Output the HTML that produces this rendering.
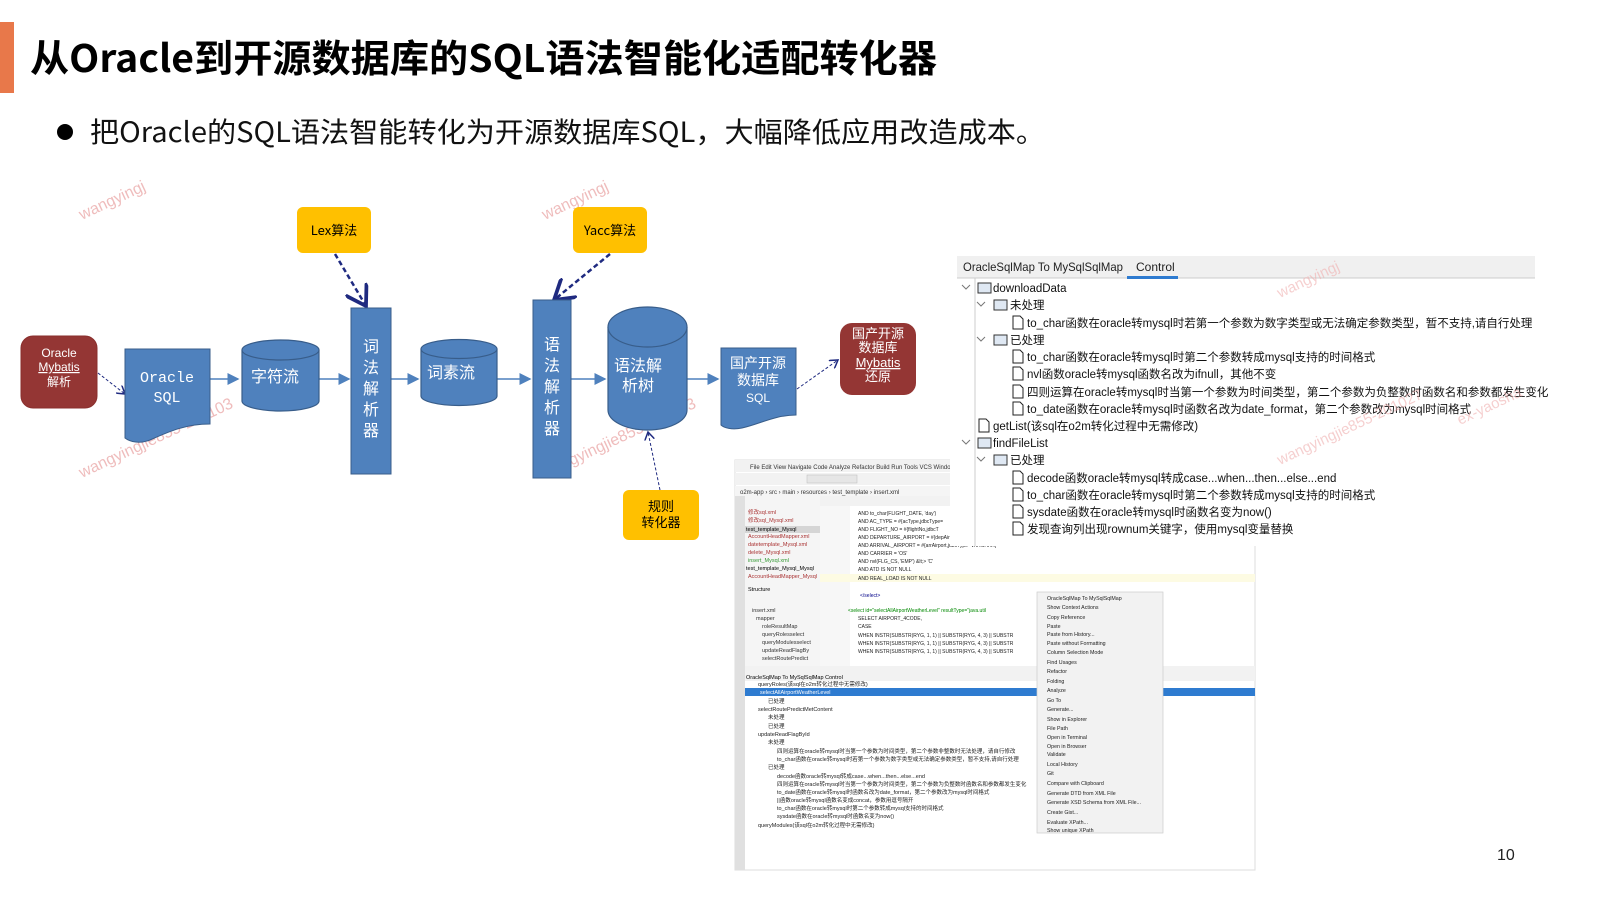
<!DOCTYPE html>
<html><head><meta charset="utf-8"><style>
html,body{margin:0;padding:0;background:#fff;}
svg{display:block;}
text{font-family:"Liberation Sans","Noto Sans CJK SC",sans-serif;}
.cj{font-family:"Noto Sans CJK SC","Liberation Sans",sans-serif;}
.mono{font-family:"Liberation Mono","Noto Sans CJK SC",monospace;}
</style></head><body>
<svg width="1600" height="900" viewBox="0 0 1600 900" xmlns="http://www.w3.org/2000/svg">
<defs>
<marker id="ab" markerWidth="8" markerHeight="8" refX="7" refY="4" orient="auto"><path d="M0,0 L8,4 L0,8 Z" fill="#4f81bd"/></marker>
<marker id="ad" markerWidth="10" markerHeight="10" refX="8" refY="5" orient="auto"><path d="M0,0 L8,5 L0,10" fill="none" stroke="#1f2a80" stroke-width="1.5"/></marker>
</defs>
<!-- title -->
<rect x="0" y="22" width="14" height="71" fill="#e8784a"/>
<text x="30" y="72" font-size="38" font-weight="bold" class="cj" textLength="907" lengthAdjust="spacingAndGlyphs">从Oracle到开源数据库的SQL语法智能化适配转化器</text>
<circle cx="65" cy="132" r="8" fill="#000"/>
<text x="90" y="142" font-size="28" class="cj" textLength="955" lengthAdjust="spacingAndGlyphs" fill="#111">把Oracle的SQL语法智能转化为开源数据库SQL，大幅降低应用改造成本。</text>

<!-- watermarks -->
<g fill="#e8a0a0" font-size="16" font-family="Liberation Serif,serif" opacity="0.7">
<text transform="translate(82,220) rotate(-25)">wangyingj</text>
<text transform="translate(82,478) rotate(-25)">wangyingjie855-201103</text>
<text transform="translate(545,220) rotate(-25)">wangyingj</text>
<text transform="translate(545,478) rotate(-25)">wangyingjie855-201103</text>
</g>

<!-- connectors -->
<g stroke="#4f81bd" stroke-width="1.5" fill="none">
<line x1="210" y1="379" x2="238" y2="379" marker-end="url(#ab)"/>
<line x1="319" y1="379" x2="349" y2="379" marker-end="url(#ab)"/>
<line x1="391" y1="379" x2="418" y2="379" marker-end="url(#ab)"/>
<line x1="497" y1="379" x2="530" y2="379" marker-end="url(#ab)"/>
<line x1="571" y1="379" x2="605" y2="379" marker-end="url(#ab)"/>
<line x1="687" y1="379" x2="718" y2="379" marker-end="url(#ab)"/>
</g>
<g stroke="#1f2a80" fill="none">
<line x1="98" y1="373" x2="125" y2="394" stroke-width="1" stroke-dasharray="3,2" marker-end="url(#ad)"/>
<line x1="335" y1="254" x2="366" y2="306" stroke-width="2.5" stroke-dasharray="5,3" marker-end="url(#ad)"/>
<line x1="610" y1="254" x2="554" y2="300" stroke-width="2.5" stroke-dasharray="5,3" marker-end="url(#ad)"/>
<line x1="797" y1="389" x2="838" y2="360" stroke-width="1" stroke-dasharray="3,2" marker-end="url(#ad)"/>
<line x1="660" y1="490" x2="648" y2="432" stroke-width="1" stroke-dasharray="3,2" marker-end="url(#ad)"/>
</g>

<!-- red boxes -->
<rect x="21" y="336" width="76" height="72" rx="12" fill="#943634" stroke="#8a2f2d"/>
<text x="59" y="357" font-size="12" fill="#fff" text-anchor="middle">Oracle</text>
<text x="59" y="371" font-size="12" fill="#fff" text-anchor="middle" text-decoration="underline">Mybatis</text>
<text x="59" y="386" font-size="12" fill="#fff" text-anchor="middle" class="cj">解析</text>
<rect x="840" y="323" width="76" height="72" rx="12" fill="#943634"/>
<g fill="#fff" font-size="13" text-anchor="middle" class="cj">
<text x="878" y="338">国产开源</text><text x="878" y="352">数据库</text>
<text x="878" y="367" text-decoration="underline">Mybatis</text><text x="878" y="381">还原</text></g>

<!-- yellow boxes -->
<rect x="297" y="207" width="74" height="46" rx="6" fill="#ffc000"/>
<text x="334" y="235" font-size="13" text-anchor="middle" class="cj">Lex算法</text>
<rect x="573" y="207" width="74" height="46" rx="6" fill="#ffc000"/>
<text x="610" y="235" font-size="13" text-anchor="middle" class="cj">Yacc算法</text>
<rect x="623" y="490" width="76" height="50" rx="6" fill="#ffc000"/>
<text x="661" y="511" font-size="13" text-anchor="middle" class="cj">规则</text>
<text x="661" y="527" font-size="13" text-anchor="middle" class="cj">转化器</text>

<!-- documents -->
<path d="M125,349 H210 V424 C185,424 168,432 150,440 C140,444 130,442 125,438 Z" fill="#4f81bd" stroke="#385d8a"/>
<text x="167" y="382" font-size="15" fill="#fff" text-anchor="middle" class="mono">Oracle</text>
<text x="167" y="402" font-size="15" fill="#fff" text-anchor="middle" class="mono">SQL</text>
<path d="M721,348 H796 V415 C775,415 760,424 742,428 C732,430 724,428 721,425 Z" fill="#4f81bd" stroke="#385d8a"/>
<g fill="#fff" font-size="14" text-anchor="middle" class="cj"><text x="758" y="368">国产开源</text><text x="758" y="385">数据库</text></g>
<text x="758" y="402" font-size="12" fill="#fff" text-anchor="middle">SQL</text>

<!-- cylinders -->
<g fill="#4f81bd" stroke="#385d8a" stroke-width="1.2">
<path d="M242,350 V401 A38.5,10 0 0 0 319,401 V350"/>
<ellipse cx="280.5" cy="350" rx="38.5" ry="10"/>
<path d="M421,349 V396 A38,9.5 0 0 0 497,396 V349"/>
<ellipse cx="459" cy="349" rx="38" ry="9.5"/>
<path d="M608,327 V410 A39.5,20 0 0 0 687,410 V327"/>
<ellipse cx="647.5" cy="327" rx="39.5" ry="20"/>
</g>
<g fill="#fff" class="cj" text-anchor="middle">
<text x="275" y="382" font-size="16">字符流</text>
<text x="451" y="378" font-size="16">词素流</text>
<text x="638" y="371" font-size="16">语法解</text>
<text x="638" y="391" font-size="16">析树</text>
</g>

<!-- tall rects -->
<rect x="351" y="308" width="40" height="166" fill="#4f81bd" stroke="#385d8a"/>
<rect x="533" y="300" width="38" height="178" fill="#4f81bd" stroke="#385d8a"/>
<g fill="#fff" class="cj" font-size="16" text-anchor="middle">
<text x="371" y="352">词</text><text x="371" y="373">法</text><text x="371" y="394">解</text><text x="371" y="415">析</text><text x="371" y="436">器</text>
<text x="552" y="350">语</text><text x="552" y="371">法</text><text x="552" y="392">解</text><text x="552" y="413">析</text><text x="552" y="434">器</text>
</g>

<!-- IDE screenshot -->
<g>
<rect x="735" y="460" width="520" height="410" fill="#fff" stroke="#ddd"/>
<rect x="735" y="460" width="520" height="12" fill="#f2f2f2"/>
<text x="750" y="469" font-size="6" fill="#333">File  Edit  View  Navigate  Code  Analyze  Refactor  Build  Run  Tools  VCS  Windo</text>
<rect x="735" y="473" width="520" height="12" fill="#f2f2f2"/>
<rect x="807" y="475" width="50" height="8" fill="#e6e6e6" stroke="#bbb" stroke-width="0.5"/>
<rect x="735" y="486" width="520" height="10" fill="#f5f5f5"/>
<text x="740" y="494" font-size="6" fill="#333">o2m-app › src › main › resources › test_template › insert.xml</text>
<rect x="735" y="496" width="10" height="374" fill="#e0e0e0"/>
<rect x="745" y="496" width="75" height="170" fill="#f5f5f5"/>
<g font-size="5.5" fill="#a33">
<text x="748" y="514">修改sql.xml</text><text x="748" y="522">修改sql_Mysql.xml</text>
<text x="748" y="538">AccountHeadMapper.xml</text><text x="748" y="546">datetemplate_Mysql.xml</text>
<text x="748" y="554">delete_Mysql.xml</text><text x="748" y="562" fill="#393">insert_Mysql.xml</text>
<text x="748" y="578">AccountHeadMapper_Mysql</text></g>
<rect x="745" y="526" width="75" height="7" fill="#d5d5d5"/>
<text x="746" y="531" font-size="5.5">test_template_Mysql</text>
<text x="746" y="570" font-size="5.5">test_template_Mysql_Mysql</text>
<text x="748" y="591" font-size="5.5">Structure</text>
<g font-size="5.5" fill="#333">
<text x="752" y="612">insert.xml</text><text x="756" y="620">mapper</text>
<text x="762" y="628">roleResultMap</text><text x="762" y="636">queryRolesselect</text>
<text x="762" y="644">queryModulesselect</text><text x="762" y="652">updateReadFlagBy</text>
<text x="762" y="660">selectRoutePredict</text></g>
<rect x="820" y="496" width="435" height="10" fill="#f2f2f2"/>
<rect x="820" y="506" width="30" height="160" fill="#f7f7f7"/>
<rect x="820" y="574" width="435" height="8" fill="#fdfbe3"/>
<g class="mono" font-size="5" fill="#222">
<text x="858" y="515">AND to_char(FLIGHT_DATE, 'day')</text>
<text x="858" y="523">AND AC_TYPE = #{acType,jdbcType=</text>
<text x="858" y="531">AND FLIGHT_NO = #{flightNo,jdbcT</text>
<text x="858" y="539">AND DEPARTURE_AIRPORT = #{depAir</text>
<text x="858" y="547">AND ARRIVAL_AIRPORT = #{arrAirport,jdbcType=VARCHAR}</text>
<text x="858" y="555">AND CARRIER = 'OS'</text>
<text x="858" y="563">AND nvl(FLG_CS, 'EMP') &amp;lt;&gt; 'C'</text>
<text x="858" y="571">AND ATD IS NOT NULL</text>
<text x="858" y="580">AND REAL_LOAD IS NOT NULL</text>
<text x="860" y="597" fill="#008">&lt;/select&gt;</text>
<text x="848" y="612" fill="#080">&lt;select id="selectAllAirportWeatherLevel" resultType="java.util</text>
<text x="858" y="620">SELECT AIRPORT_4CODE,</text><text x="858" y="628">CASE</text>
<text x="858" y="637">WHEN INSTR(SUBSTR(RYG, 1, 1) || SUBSTR(RYG, 4, 3) || SUBSTR</text>
<text x="858" y="645">WHEN INSTR(SUBSTR(RYG, 1, 1) || SUBSTR(RYG, 4, 3) || SUBSTR</text>
<text x="858" y="653">WHEN INSTR(SUBSTR(RYG, 1, 1) || SUBSTR(RYG, 4, 3) || SUBSTR</text></g>
<rect x="745" y="666" width="510" height="15" fill="#f2f2f2"/>
<text x="746" y="679" font-size="5.5">OracleSqlMap To MySqlSqlMap    Control</text>
<rect x="745" y="688" width="510" height="8" fill="#2e7bd0"/>
<text x="760" y="694" font-size="5.5" fill="#fff">selectAllAirportWeatherLevel</text>
<g font-size="5.5" fill="#222">
<text x="758" y="686">queryRoles(该sql在o2m转化过程中无需修改)</text>
<text x="768" y="703">已处理</text><text x="758" y="711">selectRoutePredictMetContent</text>
<text x="768" y="719">未处理</text><text x="768" y="728">已处理</text>
<text x="758" y="736">updateReadFlagById</text><text x="768" y="744">未处理</text>
<text x="777" y="753">四则运算在oracle转mysql时当第一个参数为时间类型，第二个参数非整数时无法处理，请自行修改</text>
<text x="777" y="761">to_char函数在oracle转mysql时若第一个参数为数字类型或无法确定参数类型，暂不支持,请自行处理</text>
<text x="768" y="769">已处理</text>
<text x="777" y="778">decode函数oracle转mysql转成case...when...then...else...end</text>
<text x="777" y="786">四则运算在oracle转mysql时当第一个参数为时间类型，第二个参数为负整数时函数名和参数都发生变化</text>
<text x="777" y="794">to_date函数在oracle转mysql时函数名改为date_format，第二个参数改为mysql时间格式</text>
<text x="777" y="802">||函数oracle转mysql函数名变成concat，参数用逗号隔开</text>
<text x="777" y="810">to_char函数在oracle转mysql时第二个参数转成mysql支持的时间格式</text>
<text x="777" y="818">sysdate函数在oracle转mysql时函数名变为now()</text>
<text x="758" y="827">queryModules(该sql在o2m转化过程中无需修改)</text></g>
<!-- context menu -->
<rect x="1037" y="592" width="126" height="241" fill="#f2f2f2" stroke="#ccc" stroke-width="0.7"/>
<g font-size="5.3" fill="#222">
<text x="1047" y="600">OracleSqlMap To MySqlSqlMap</text><text x="1047" y="609">Show Context Actions</text>
<text x="1047" y="619">Copy Reference</text><text x="1047" y="628">Paste</text><text x="1047" y="636">Paste from History...</text>
<text x="1047" y="645">Paste without Formatting</text><text x="1047" y="654">Column Selection Mode</text>
<text x="1047" y="664">Find Usages</text><text x="1047" y="673">Refactor</text><text x="1047" y="683">Folding</text>
<text x="1047" y="692">Analyze</text><text x="1047" y="702">Go To</text><text x="1047" y="711">Generate...</text>
<text x="1047" y="721">Show in Explorer</text><text x="1047" y="730">File Path</text><text x="1047" y="739">Open in Terminal</text>
<text x="1047" y="748">Open in Browser</text><text x="1047" y="756">Validate</text><text x="1047" y="766">Local History</text>
<text x="1047" y="775">Git</text><text x="1047" y="785">Compare with Clipboard</text><text x="1047" y="795">Generate DTD from XML File</text>
<text x="1047" y="804">Generate XSD Schema from XML File...</text><text x="1047" y="814">Create Gist...</text>
<text x="1047" y="824">Evaluate XPath...</text><text x="1047" y="832">Show unique XPath</text></g>
</g>

<!-- tree panel -->
<rect x="950" y="256" width="590" height="290" fill="#fff"/>
<rect x="957" y="256" width="578" height="22" fill="#f0f0f0"/>
<line x1="975" y1="278" x2="975" y2="546" stroke="#ccc"/>
<line x1="957" y1="278" x2="1535" y2="278" stroke="#ccc"/>
<rect x="1127" y="276" width="51" height="3" fill="#2e7bd0"/>
<text x="963" y="271" font-size="12" fill="#222" textLength="160" lengthAdjust="spacingAndGlyphs">OracleSqlMap To MySqlSqlMap</text>
<text x="1136" y="271" font-size="12" fill="#222">Control</text>
<g font-size="11.5" fill="#111" class="cj">
<text x="993" y="292">downloadData</text>
<text x="1010" y="309">未处理</text>
<text x="1027" y="327">to_char函数在oracle转mysql时若第一个参数为数字类型或无法确定参数类型，暂不支持,请自行处理</text>
<text x="1010" y="344">已处理</text>
<text x="1027" y="361">to_char函数在oracle转mysql时第二个参数转成mysql支持的时间格式</text>
<text x="1027" y="378">nvl函数oracle转mysql函数名改为ifnull，其他不变</text>
<text x="1027" y="396">四则运算在oracle转mysql时当第一个参数为时间类型，第二个参数为负整数时函数名和参数都发生变化</text>
<text x="1027" y="413">to_date函数在oracle转mysql时函数名改为date_format，第二个参数改为mysql时间格式</text>
<text x="993" y="430">getList(该sql在o2m转化过程中无需修改)</text>
<text x="993" y="447">findFileList</text>
<text x="1010" y="464">已处理</text>
<text x="1027" y="482">decode函数oracle转mysql转成case...when...then...else...end</text>
<text x="1027" y="499">to_char函数在oracle转mysql时第二个参数转成mysql支持的时间格式</text>
<text x="1027" y="516">sysdate函数在oracle转mysql时函数名变为now()</text>
<text x="1027" y="533">发现查询列出现rownum关键字，使用mysql变量替换</text>
</g>
<g fill="none" stroke="#777" stroke-width="1">
<path d="M962,285 l4,4 l4,-4"/><path d="M977,302 l4,4 l4,-4"/><path d="M977,337 l4,4 l4,-4"/>
<path d="M962,440 l4,4 l4,-4"/><path d="M977,457 l4,4 l4,-4"/>
</g>
<g fill="#dfe8f3" stroke="#333" stroke-width="1">
<rect x="978" y="283" width="13" height="10"/><rect x="994" y="300" width="13" height="10"/>
<rect x="994" y="335" width="13" height="10"/><rect x="978" y="438" width="13" height="10"/>
<rect x="994" y="455" width="13" height="10"/>
</g>
<g fill="#fff" stroke="#222" stroke-width="1">
<path d="M1013,316 h7 l3,3 v10 h-10 z"/><path d="M1013,350 h7 l3,3 v10 h-10 z"/>
<path d="M1013,367 h7 l3,3 v10 h-10 z"/><path d="M1013,385 h7 l3,3 v10 h-10 z"/>
<path d="M1013,402 h7 l3,3 v10 h-10 z"/><path d="M979,419 h7 l3,3 v10 h-10 z"/>
<path d="M1013,471 h7 l3,3 v10 h-10 z"/><path d="M1013,488 h7 l3,3 v10 h-10 z"/>
<path d="M1013,505 h7 l3,3 v10 h-10 z"/><path d="M1013,522 h7 l3,3 v10 h-10 z"/>
</g>
<g fill="#f0b0b0" font-size="15" font-family="Liberation Serif,serif" opacity="0.6">
<text transform="translate(1280,298) rotate(-25)">wangyingj</text>
<text transform="translate(1280,465) rotate(-25)">wangyingjie855-201027</text>
<text transform="translate(1460,425) rotate(-25)">ex-yaosha</text>
</g>

<text x="1497" y="860" font-size="16" fill="#222">10</text>
</svg>
</body></html>
